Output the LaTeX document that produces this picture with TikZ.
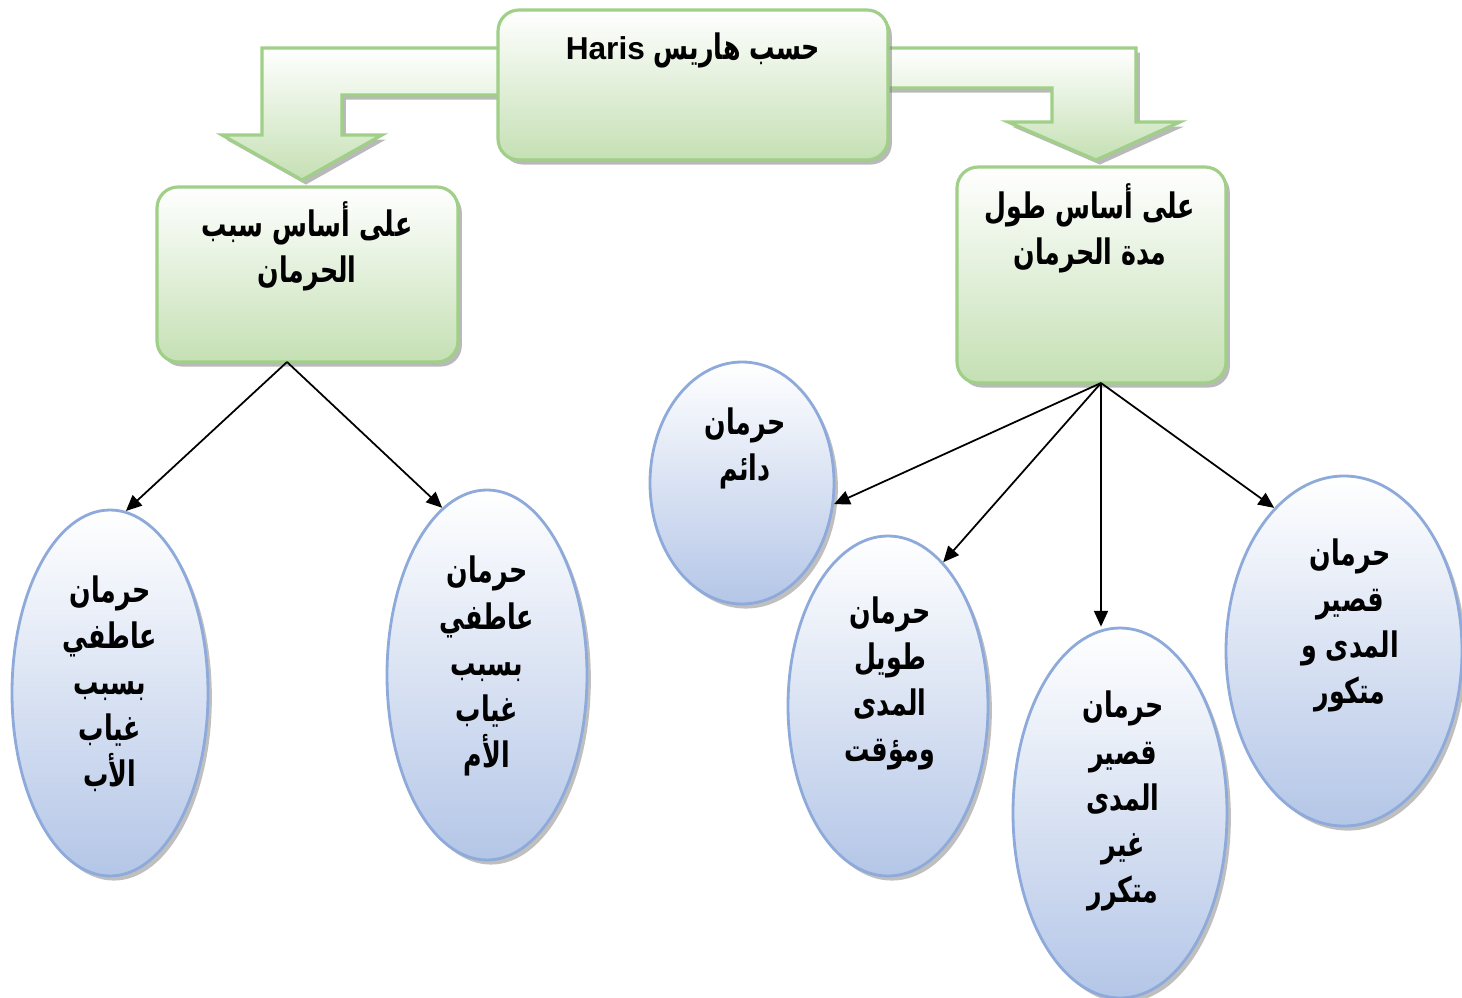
\documentclass[tikz,border=0pt]{standalone}
\usepackage{fontspec}
\usepackage{xcolor}
\usetikzlibrary{shapes.geometric, arrows.meta, positioning, shadows}
\TeXXeTstate=1
\newfontfamily\arabicfont[Script=Arabic, FakeStretch=0.72]{DejaVu Sans}
\newfontfamily\latinfont{Liberation Sans}
\newcommand{\ar}[1]{{\arabicfont\bfseries\beginR #1\endR}}
\definecolor{boxgreen}{RGB}{197,224,180}
\definecolor{edgegreen}{RGB}{160,207,136}
\definecolor{ellblue}{RGB}{180,198,231}
\definecolor{edgeblue}{RGB}{142,170,219}

\begin{document}
\begin{tikzpicture}[
    x=0.1mm, y=-0.1mm,
    box/.style={rectangle, draw=edgegreen, line width=0.9pt, rounded corners=6pt,
                top color=white, bottom color=boxgreen, inner sep=0pt,
                drop shadow={shadow xshift=1.1pt, shadow yshift=-1.3pt, fill=black!50, opacity=0.55}},
    oval/.style={ellipse, draw=edgeblue, line width=0.8pt, inner sep=0pt,
                 top color=white, bottom color=ellblue,
                 drop shadow={shadow xshift=1.1pt, shadow yshift=-1.3pt, fill=black!50, opacity=0.5}},
    bigarr/.style={draw=edgegreen, line width=0.9pt, top color=white, bottom color=boxgreen,
                   drop shadow={shadow xshift=1.1pt, shadow yshift=-1.3pt, fill=black!50, opacity=0.55}},
    txt/.style={font=\fontsize{10}{13.1}\selectfont, align=center, inner sep=0pt},
    arr/.style={-{Triangle[length=4.5pt, width=4pt]}, line width=0.5pt, black}
]
\useasboundingbox (0,0) rectangle (1462,998);

% block arrows behind the top box
\path[bigarr] (520,48) -- (262,48) -- (262,135) -- (222,135) -- (302,180)
    -- (382,135) -- (342,135) -- (342,95) -- (520,95) -- cycle;
\path[bigarr] (870,48) -- (1136,48) -- (1136,122) -- (1180,122) -- (1096,160)
    -- (1008,122) -- (1052,122) -- (1052,88) -- (870,88) -- cycle;

\node[box, minimum width=39mm, minimum height=15mm] (top) at (693,85) {};
\node[box, minimum width=30.1mm, minimum height=17.5mm] (cause) at (307.5,274.5) {};
\node[box, minimum width=26.9mm, minimum height=21.6mm] (length) at (1091.5,275) {};

\node[txt] (toptxt) at (693,50) {\ar{حسب هاريس \beginL{\latinfont\bfseries\fontsize{9}{13}\selectfont Haris}\endL}};
\node[txt] (causetxt) at (307,246) {\ar{على أساس سبب}\\\ar{الحرمان}};
\node[txt] (lengthtxt) at (1090,228) {\ar{على أساس طول}\\\ar{مدة الحرمان}};

% ovals
\node[oval, minimum width=19.6mm, minimum height=36.6mm] (father) at (110,693) {};
\node[oval, minimum width=20mm, minimum height=37mm] (mother) at (487,675) {};
\node[oval, minimum width=18.4mm, minimum height=24.2mm] (permanent) at (742,483) {};
\node[oval, minimum width=20mm, minimum height=34mm] (longterm) at (888,706) {};
\node[oval, minimum width=21.4mm, minimum height=37mm] (shortonce) at (1120,813) {};
\node[oval, minimum width=23.6mm, minimum height=35mm] (shortrep) at (1344,651) {};

\node[txt] (fathertxt) at (110,684) {\ar{حرمان}\\\ar{عاطفي}\\\ar{بسبب}\\\ar{غياب}\\\ar{الأب}};
\node[txt] (mothertxt) at (487,666) {\ar{حرمان}\\\ar{عاطفي}\\\ar{بسبب}\\\ar{غياب}\\\ar{الأم}};
\node[txt] (permtxt) at (745,448) {\ar{حرمان}\\\ar{دائم}};
\node[txt] (longtxt) at (890,683) {\ar{حرمان}\\\ar{طويل}\\\ar{المدى}\\\ar{ومؤقت}};
\node[txt] (oncetxt) at (1123,801) {\ar{حرمان}\\\ar{قصير}\\\ar{المدى}\\\ar{غير}\\\ar{متكرر}};
\node[txt] (reptxt) at (1350,625) {\ar{حرمان}\\\ar{قصير}\\\ar{المدى و}\\\ar{متكور}};

% thin connectors
\coordinate (cs) at (287,362);
\coordinate (ls) at (1101,383);
\draw[arr] (cs) -- (father.85);
\draw[arr] (cs) -- (mother.105);
\draw[arr] (ls) -- (permanent.-13);
\draw[arr] (ls) -- (longterm.69);
\draw[arr] (ls) -- (ls |- shortonce.north);
\draw[arr] (ls) -- (shortrep.116);
\end{tikzpicture}
\end{document}
